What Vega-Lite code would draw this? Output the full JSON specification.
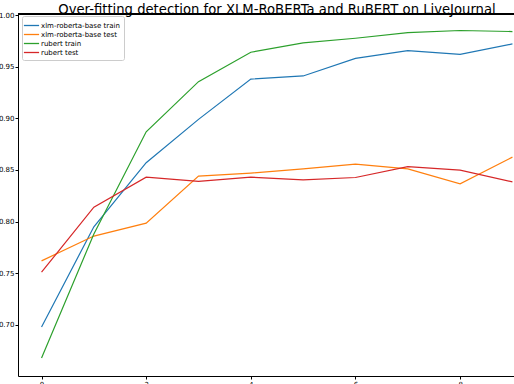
{
  "$schema": "https://vega.github.io/schema/vega-lite/v6.json",
  "autosize": "none",
  "padding": {"left": 18, "top": 14, "right": 0, "bottom": 8},
  "width": 496,
  "height": 362,
  "background": "white",
  "config": {
    "view": {"stroke": null},
    "font": "DejaVu Sans",
    "axis": {"grid": false, "domainColor": "#000", "domainWidth": 1, "tickColor": "#000", "tickSize": 3, "labelFontSize": 7, "labelColor": "#000", "labelFont": "DejaVu Sans", "title": null}
  },
  "title": {"text": "Over-fitting detection for XLM-RoBERTa and RuBERT on LiveJournal", "fontSize": 13.2, "fontWeight": "normal", "font": "DejaVu Sans", "color": "#000", "offset": 0, "frame": "group", "dx": 11, "dy": 6},
  "data": {"values": [
    {"epoch": 0, "series": "xlm-roberta-base train", "acc": 0.698},
    {"epoch": 1, "series": "xlm-roberta-base train", "acc": 0.795},
    {"epoch": 2, "series": "xlm-roberta-base train", "acc": 0.857},
    {"epoch": 3, "series": "xlm-roberta-base train", "acc": 0.899},
    {"epoch": 4, "series": "xlm-roberta-base train", "acc": 0.938},
    {"epoch": 5, "series": "xlm-roberta-base train", "acc": 0.941},
    {"epoch": 6, "series": "xlm-roberta-base train", "acc": 0.958},
    {"epoch": 7, "series": "xlm-roberta-base train", "acc": 0.9655},
    {"epoch": 8, "series": "xlm-roberta-base train", "acc": 0.962},
    {"epoch": 9, "series": "xlm-roberta-base train", "acc": 0.972},
    {"epoch": 0, "series": "xlm-roberta-base test", "acc": 0.762},
    {"epoch": 1, "series": "xlm-roberta-base test", "acc": 0.786},
    {"epoch": 2, "series": "xlm-roberta-base test", "acc": 0.7985},
    {"epoch": 3, "series": "xlm-roberta-base test", "acc": 0.844},
    {"epoch": 4, "series": "xlm-roberta-base test", "acc": 0.847},
    {"epoch": 5, "series": "xlm-roberta-base test", "acc": 0.851},
    {"epoch": 6, "series": "xlm-roberta-base test", "acc": 0.8556},
    {"epoch": 7, "series": "xlm-roberta-base test", "acc": 0.851},
    {"epoch": 8, "series": "xlm-roberta-base test", "acc": 0.8366},
    {"epoch": 9, "series": "xlm-roberta-base test", "acc": 0.8624},
    {"epoch": 0, "series": "rubert train", "acc": 0.668},
    {"epoch": 1, "series": "rubert train", "acc": 0.788},
    {"epoch": 2, "series": "rubert train", "acc": 0.887},
    {"epoch": 3, "series": "rubert train", "acc": 0.9355},
    {"epoch": 4, "series": "rubert train", "acc": 0.964},
    {"epoch": 5, "series": "rubert train", "acc": 0.973},
    {"epoch": 6, "series": "rubert train", "acc": 0.9775},
    {"epoch": 7, "series": "rubert train", "acc": 0.983},
    {"epoch": 8, "series": "rubert train", "acc": 0.985},
    {"epoch": 9, "series": "rubert train", "acc": 0.984},
    {"epoch": 0, "series": "rubert test", "acc": 0.751},
    {"epoch": 1, "series": "rubert test", "acc": 0.814},
    {"epoch": 2, "series": "rubert test", "acc": 0.843},
    {"epoch": 3, "series": "rubert test", "acc": 0.839},
    {"epoch": 4, "series": "rubert test", "acc": 0.843},
    {"epoch": 5, "series": "rubert test", "acc": 0.8404},
    {"epoch": 6, "series": "rubert test", "acc": 0.8427},
    {"epoch": 7, "series": "rubert test", "acc": 0.8533},
    {"epoch": 8, "series": "rubert test", "acc": 0.8498},
    {"epoch": 9, "series": "rubert test", "acc": 0.8385}
  ]},
  "layer": [
    {
      "mark": {"type": "line", "strokeWidth": 1.2, "clip": true},
      "encoding": {
        "x": {"field": "epoch", "type": "quantitative", "scale": {"domain": [-0.45, 9.03], "nice": false, "zero": false}, "axis": {"values": [0, 2, 4, 6, 8], "labelPadding": 1, "format": "d"}},
        "y": {"field": "acc", "type": "quantitative", "scale": {"domain": [0.6505, 1.001], "nice": false, "zero": false}, "axis": {"values": [0.7, 0.75, 0.8, 0.85, 0.9, 0.95, 1.0], "format": ".2f", "labelPadding": 1}},
        "stroke": {"field": "series", "type": "nominal", "scale": {"domain": ["xlm-roberta-base train", "xlm-roberta-base test", "rubert train", "rubert test"], "range": ["#1f77b4", "#ff7f0e", "#2ca02c", "#d62728"]},
          "legend": {"title": null, "orient": "none", "legendX": 4, "legendY": 2, "fillColor": "white", "strokeColor": "#cccccc", "padding": 4, "cornerRadius": 2, "symbolType": "M-1.6,0H1.6", "symbolSize": 90, "symbolStrokeWidth": 1.3, "labelFontSize": 7, "labelFont": "DejaVu Sans", "labelColor": "#000", "rowPadding": 0, "labelOffset": 4}},
        "order": {"field": "epoch"}
      }
    },
    {
      "mark": {"type": "rule", "color": "#000", "strokeWidth": 1},
      "encoding": {"y": {"datum": 1.001}}
    }
  ]
}
